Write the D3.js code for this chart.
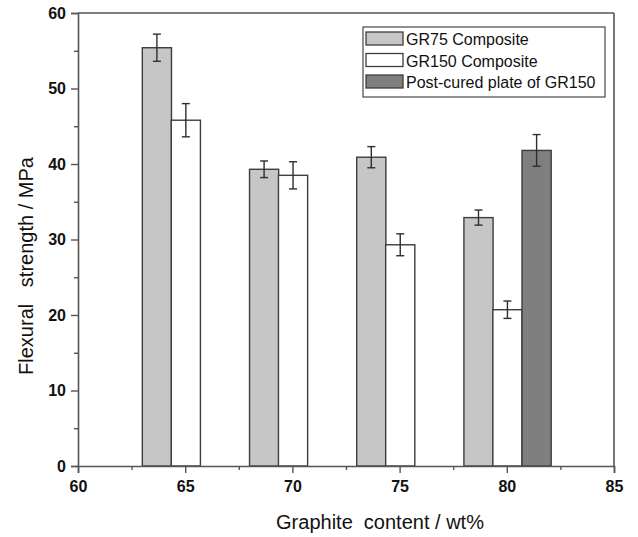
<!DOCTYPE html>
<html>
<head>
<meta charset="utf-8">
<script src="https://cdn.jsdelivr.net/npm/d3@7"></script>
<style>
  body { margin: 0; background: #fff; }
  text { font-family: "Liberation Sans", Arial, sans-serif; }
</style>
</head>
<body>
<div id="chart"></div>
<script>
// data
const groups = [65, 70, 75, 80];
const gr75Values = [55.4, 39.3, 40.9, 32.9];
const gr75Errors = [1.8, 1.1, 1.4, 1.0];
const gr150Values = [45.8, 38.5, 29.3, 20.7];
const gr150Errors = [2.2, 1.8, 1.45, 1.15];
const postCuredGroup = 80;
const postCuredValue = 41.8;
const postCuredError = 2.1;
const seriesNames = ["GR75 Composite", "GR150 Composite", "Post-cured plate of GR150"];
const xTicks = [60, 65, 70, 75, 80, 85];
const yTicks = [0, 10, 20, 30, 40, 50, 60];

// layout
const width = 638, height = 537;
const plotL = 78, plotR = 614, plotT = 13, plotB = 466;
const barW = 1.36;   // in x units
const offsets = [-2.0, -0.65, 0.71];
const fills = ["#c6c6c6", "#ffffff", "#7f7f7f"];
const stroke = "#3d3d3d";

const svg = d3.select("#chart").append("svg")
  .attr("width", width).attr("height", height);

const x = d3.scaleLinear().domain([60, 85]).range([plotL, plotR]);
const y = d3.scaleLinear().domain([0, 60]).range([plotB, plotT]);

// build bar rows
const bars = [];
groups.forEach((g, i) => {
  bars.push({ s: 0, x0: g + offsets[0], v: gr75Values[i], e: gr75Errors[i] });
  bars.push({ s: 1, x0: g + offsets[1], v: gr150Values[i], e: gr150Errors[i] });
});
bars.push({ s: 2, x0: postCuredGroup + offsets[2], v: postCuredValue, e: postCuredError });

svg.selectAll(".bar").data(bars).enter().append("rect")
  .attr("class", "bar")
  .attr("x", d => x(d.x0))
  .attr("width", d => x(d.x0 + barW) - x(d.x0))
  .attr("y", d => y(d.v))
  .attr("height", d => y(0) - y(d.v))
  .attr("fill", d => fills[d.s])
  .attr("stroke", stroke)
  .attr("stroke-width", 1.4);

// error bars
const eb = svg.selectAll(".err").data(bars).enter().append("g")
  .attr("class", "err")
  .attr("stroke", "#2e2e2e").attr("stroke-width", 1.4);
const cx = d => x(d.x0 + barW / 2);
eb.append("line")
  .attr("x1", cx).attr("x2", cx)
  .attr("y1", d => y(d.v + d.e)).attr("y2", d => y(d.v - d.e));
eb.append("line")
  .attr("x1", d => cx(d) - 4).attr("x2", d => cx(d) + 4)
  .attr("y1", d => y(d.v + d.e)).attr("y2", d => y(d.v + d.e));
eb.append("line")
  .attr("x1", d => cx(d) - 4).attr("x2", d => cx(d) + 4)
  .attr("y1", d => y(d.v - d.e)).attr("y2", d => y(d.v - d.e));

// axes
const xAxis = svg.append("g")
  .attr("transform", `translate(0,${plotB})`)
  .call(d3.axisBottom(x).tickValues(xTicks).tickSize(7).tickPadding(5).tickFormat(d3.format("d")));
svg.append("g")
  .attr("transform", `translate(0,${plotB})`)
  .call(d3.axisBottom(x).tickValues([62.5, 67.5, 72.5, 77.5, 82.5]).tickSize(4).tickFormat(""))
  .call(g => g.select(".domain").remove());

const yAxis = svg.append("g")
  .attr("transform", `translate(${plotL},0)`)
  .call(d3.axisLeft(y).tickValues(yTicks).tickSize(7).tickPadding(5));
svg.append("g")
  .attr("transform", `translate(${plotL},0)`)
  .call(d3.axisLeft(y).tickValues([5, 15, 25, 35, 45, 55]).tickSize(4).tickFormat(""))
  .call(g => g.select(".domain").remove());

svg.selectAll(".tick line").attr("stroke", "#555").attr("stroke-width", 1.4);
svg.selectAll(".domain").attr("stroke", "#555").attr("stroke-width", 1.6);
svg.selectAll(".tick text")
  .style("font-size", "16px").style("font-weight", "bold").attr("fill", "#111");
xAxis.selectAll(".tick text").attr("dy", "0.85em");

// frame top and right
svg.append("line").attr("x1", plotL).attr("x2", plotR).attr("y1", plotT).attr("y2", plotT)
  .attr("stroke", "#555").attr("stroke-width", 1.6);
svg.append("line").attr("x1", plotR).attr("x2", plotR).attr("y1", plotT).attr("y2", plotB)
  .attr("stroke", "#555").attr("stroke-width", 1.6);

// axis titles
svg.append("text")
  .attr("x", 380).attr("y", 529)
  .attr("text-anchor", "middle")
  .style("font-size", "20px").attr("fill", "#111")
  .attr("xml:space", "preserve")
  .text("Graphite  content / wt%");
svg.append("text")
  .attr("transform", "translate(33,266) rotate(-90)")
  .attr("text-anchor", "middle")
  .style("font-size", "20px").attr("fill", "#111")
  .attr("xml:space", "preserve")
  .text("Flexural   strength / MPa");

// legend
const lg = svg.append("g").attr("transform", "translate(363,27)");
lg.append("rect").attr("width", 242).attr("height", 70)
  .attr("fill", "#fff").attr("stroke", "#555").attr("stroke-width", 1.3);
seriesNames.forEach((name, i) => {
  const row = lg.append("g").attr("transform", `translate(3,${5 + i * 21.5})`);
  row.append("rect").attr("width", 37).attr("height", 13)
    .attr("fill", fills[i]).attr("stroke", stroke).attr("stroke-width", 1.3);
  row.append("text").attr("x", 40).attr("y", 13)
    .style("font-size", "16px").attr("fill", "#111")
    .text(name);
});
</script>
</body>
</html>
